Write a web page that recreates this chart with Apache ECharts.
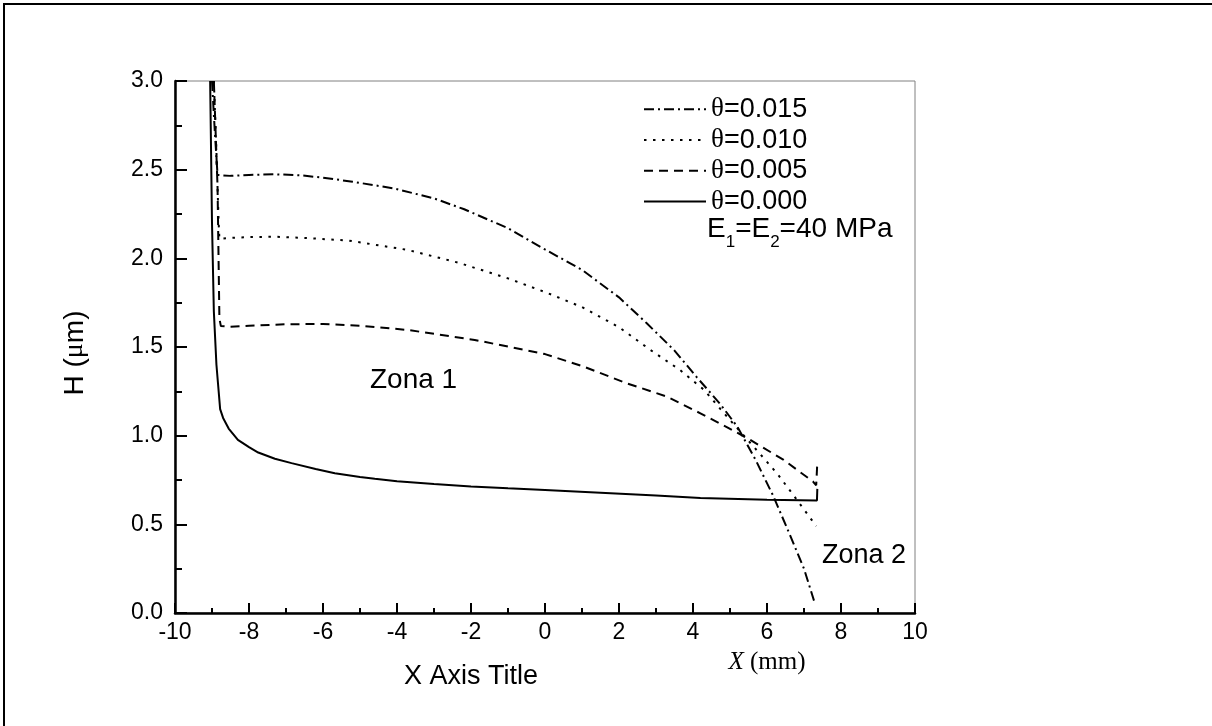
<!DOCTYPE html>
<html><head><meta charset="utf-8">
<script src="https://cdn.jsdelivr.net/npm/echarts@6/dist/echarts.min.js"></script>
<style>html,body{margin:0;padding:0;background:#fff}#c{width:1212px;height:726px}</style>
</head><body><div id="c"></div>
<script>
// ---- data ----
const seriesNames = ['θ=0.015', 'θ=0.010', 'θ=0.005', 'θ=0.000'];

const theta015X = [-9.0, -8.92, -8.85, -8.8, -8.5, -8.0, -7.3, -6.6, -6.0, -5.2, -4.1, -3.0, -2.2, -1.0, 0.0, 1.0, 2.0, 2.75, 3.5, 4.1, 4.73, 5.2, 5.7, 6.17, 6.62, 7.0, 7.27];
const theta015Y = [3.0, 2.7, 2.47, 2.462, 2.465, 2.47, 2.474, 2.468, 2.455, 2.432, 2.395, 2.338, 2.278, 2.17, 2.05, 1.935, 1.78, 1.634, 1.48, 1.33, 1.18, 1.05, 0.86, 0.66, 0.44, 0.25, 0.07];

const theta010X = [-8.95, -8.88, -8.82, -8.8, -8.5, -8.0, -7.3, -6.5, -5.3, -3.7, -2.35, -1.0, 0.0, 1.0, 2.0, 2.85, 3.65, 4.3, 4.95, 5.8, 6.3, 6.8, 7.33];
const theta010Y = [3.0, 2.6, 2.2, 2.11, 2.115, 2.12, 2.122, 2.115, 2.10, 2.047, 1.976, 1.887, 1.81, 1.725, 1.612, 1.483, 1.37, 1.258, 1.10, 0.90, 0.78, 0.64, 0.49];

const theta005X = [-8.95, -8.85, -8.8, -8.76, -8.5, -8.0, -7.0, -6.0, -5.0, -3.7, -1.9, 0.0, 1.04, 2.2, 3.3, 4.2, 4.9, 5.55, 6.45, 7.25, 7.33, 7.36];
const theta005Y = [3.0, 2.4, 1.66, 1.618, 1.614, 1.62, 1.628, 1.63, 1.62, 1.596, 1.54, 1.46, 1.39, 1.296, 1.22, 1.126, 1.05, 0.976, 0.863, 0.74, 0.72, 0.85];

const theta000X = [-9.05, -9.0, -8.95, -8.88, -8.84, -8.78, -8.7, -8.55, -8.3, -8.0, -7.75, -7.3, -6.85, -6.2, -5.68, -5.0, -4.6, -4.0, -3.0, -2.0, -1.0, 0.0, 1.5, 3.0, 4.2, 6.0, 7.35, 7.36];
const theta000Y = [3.0, 2.2, 1.7, 1.4, 1.3, 1.15, 1.1, 1.04, 0.976, 0.935, 0.905, 0.87, 0.845, 0.812, 0.788, 0.767, 0.757, 0.743, 0.727, 0.714, 0.703, 0.693, 0.678, 0.662, 0.648, 0.638, 0.634, 0.70];

const xMin = -10, xMax = 10, xStep = 2;
const yMin = 0, yMax = 3, yStep = 0.5;

// ---- build ----
function zip(xs, ys) { return xs.map((x, i) => [x, ys[i]]); }
const allX = [theta015X, theta010X, theta005X, theta000X];
const allY = [theta015Y, theta010Y, theta005Y, theta000Y];
const dashTypes = [[10, 4, 2, 4], [2.5, 6.5], [9, 6], 'solid'];

const FS = 'Liberation Sans', FSER = 'Liberation Serif';

const chart = echarts.init(document.getElementById('c'), null, {renderer: 'canvas'});
chart.setOption({
  animation: false,
  backgroundColor: '#fff',
  grid: {left: 175, right: 297, top: 81, bottom: 113, show: true, borderColor: '#808080', borderWidth: 1, backgroundColor: 'transparent'},
  xAxis: {
    type: 'value', min: xMin, max: xMax, interval: xStep,
    axisLine: {show: true, onZero: false, lineStyle: {color: '#000', width: 2.5}},
    axisTick: {show: true, inside: true, length: 10, lineStyle: {color: '#000', width: 2}},
    minorTick: {show: true, splitNumber: 2, length: 5, lineStyle: {color: '#000', width: 2}},
    splitLine: {show: false},
    axisLabel: {fontFamily: FS, fontSize: 23, color: '#000', margin: 8}
  },
  yAxis: {
    type: 'value', min: yMin, max: yMax, interval: yStep,
    axisLine: {show: true, onZero: false, lineStyle: {color: '#000', width: 2.5}},
    axisTick: {show: true, inside: true, length: 12, lineStyle: {color: '#000', width: 2}},
    minorTick: {show: true, splitNumber: 2, length: 7, lineStyle: {color: '#000', width: 2}},
    splitLine: {show: false},
    axisLabel: {fontFamily: FS, fontSize: 23, color: '#000', margin: 12, formatter: v => v.toFixed(1)}
  },
  legend: {
    orient: 'vertical', left: 638, top: 90, itemWidth: 62, itemHeight: 14, itemGap: 2,
    selectedMode: false, data: seriesNames,
    itemStyle: {opacity: 0},
    formatter: n => '{t|θ}{n|' + n.slice(1) + '}',
    textStyle: {color: '#000', fontFamily: FS, fontSize: 27, lineHeight: 28.7,
      rich: {t: {fontFamily: FSER, fontSize: 27, lineHeight: 28.7, color: '#000'},
             n: {fontFamily: FS, fontSize: 27, lineHeight: 28.7, color: '#000'}}}
  },
  series: seriesNames.map((name, i) => ({
    name, type: 'line', symbol: 'none', smooth: false, clip: true,
    data: zip(allX[i], allY[i]),
    lineStyle: {color: '#000', width: 2, type: dashTypes[i]},
    itemStyle: {color: '#000'}
  })),
  graphic: [
    {type: 'line', shape: {x1: 3, y1: 4, x2: 1212, y2: 4}, style: {stroke: '#000', lineWidth: 2}},
    {type: 'line', shape: {x1: 4, y1: 3, x2: 4, y2: 726}, style: {stroke: '#000', lineWidth: 2}},
    {type: 'text', x: 707, y: 215, style: {
      text: '{a|E}{s|1}{a|=E}{s|2}{a|=40 MPa}',
      rich: {a: {fontFamily: FS, fontSize: 28, lineHeight: 31, verticalAlign: 'top', fill: '#000'},
             s: {fontFamily: FS, fontSize: 17, lineHeight: 17, verticalAlign: 'top', padding: [19, 0, 0, 0], fill: '#000'}}}},
    {type: 'text', x: 75, y: 353, rotation: Math.PI / 2, style: {
      text: '{a|H (}{m|μ}{a|m)}', align: 'center', verticalAlign: 'middle',
      rich: {a: {fontFamily: FS, fontSize: 28, fill: '#000'}, m: {fontFamily: FSER, fontSize: 28, fill: '#000'}}}},
    {type: 'text', x: 471, y: 677, style: {text: 'X Axis Title', font: '27px "Liberation Sans"', fill: '#000', align: 'center', verticalAlign: 'middle'}},
    {type: 'text', x: 767, y: 662, style: {
      text: '{i|X}{r| (mm)}', align: 'center', verticalAlign: 'middle',
      rich: {i: {fontFamily: FSER, fontStyle: 'italic', fontSize: 25, fill: '#000'}, r: {fontFamily: FSER, fontSize: 25, fill: '#000'}}}},
    {type: 'text', x: 370, y: 380, style: {text: 'Zona 1', font: '28px "Liberation Sans"', fill: '#000', align: 'left', verticalAlign: 'middle'}},
    {type: 'text', x: 822, y: 556, style: {text: 'Zona 2', font: '27px "Liberation Sans"', fill: '#000', align: 'left', verticalAlign: 'middle'}}
  ]
});
</script>
</body></html>
